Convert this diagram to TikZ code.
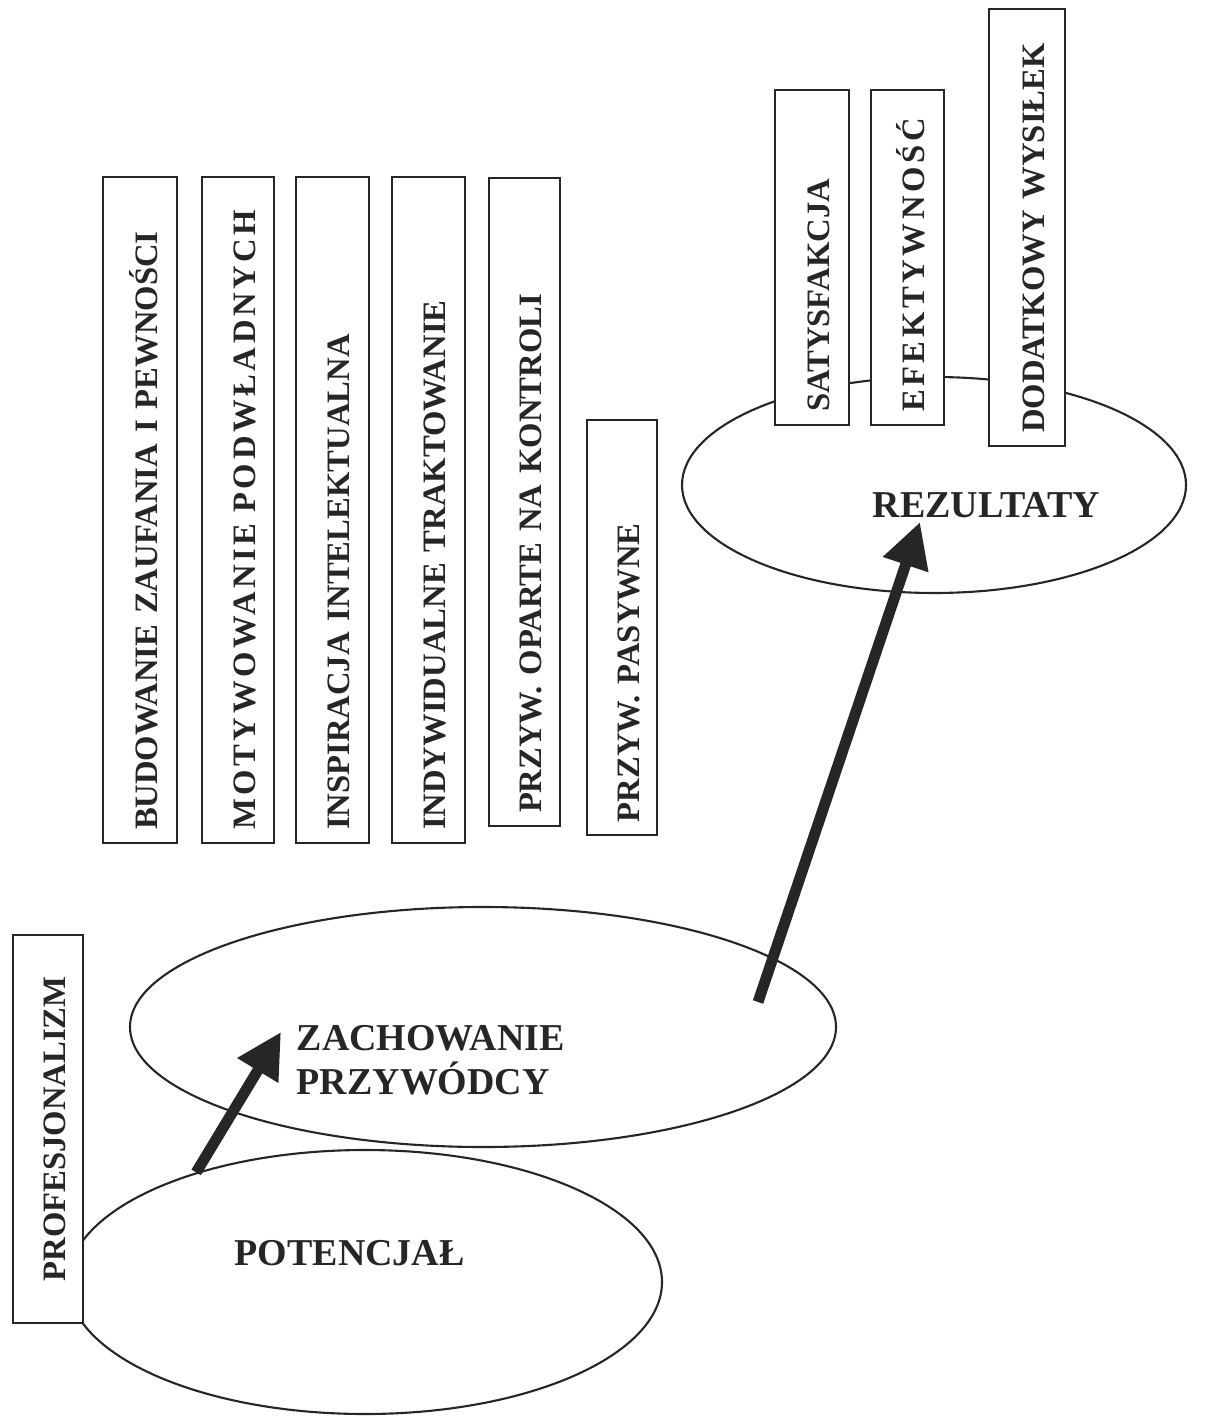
\documentclass[tikz,border=0pt]{standalone}
\usepackage{fontspec}
\setmainfont{Liberation Serif}
\usetikzlibrary{shapes.geometric,arrows.meta}
\definecolor{Tusz}{HTML}{262626}
\newcommand{\pionowy}{\fontsize{9.3}{11.2}\selectfont\bfseries}
\newcommand{\poziomy}{\fontsize{10.8}{12.5}\selectfont\bfseries}
\newcommand{\rozstrzel}{\addfontfeatures{LetterSpace=11}}

\begin{document}
\begin{tikzpicture}[x=0.1mm,y=-0.1mm,
    elipsa/.style={ellipse,draw=Tusz,line width=0.6pt,inner sep=0pt},
    ramka/.style={draw=Tusz,fill=white,line width=0.7pt,rotate=90,font=\pionowy,text=Tusz,
        inner xsep=1.3mm,inner ysep=0pt,text height=3.4mm,text depth=0pt},
    podpis/.style={font=\poziomy,text=Tusz,inner sep=0pt},
    strzalka/.style={draw=Tusz,line width=3.1pt,-{Triangle[length=4.5mm,width=4.5mm]}}]

    \useasboundingbox (0,0) rectangle (1213,1417);

    % elipsy
    \node[elipsa,minimum width=70.6mm,minimum height=24mm] (zachowanie) at (483,1027) {};
    \node[elipsa,minimum width=50.4mm,minimum height=21.6mm] (rezultaty) at (934,485) {};
    \node[elipsa,minimum width=59.4mm,minimum height=26.4mm] (potencjal) at (365,1282) {};

    \node[podpis,anchor=base west] (potencjalTxt) at (234,1265) {POTENCJAŁ};
    \node[podpis,anchor=west,align=left] (zachowanieTxt) at (296,1060) {ZACHOWANIE\\PRZYWÓDCY};
    \node[podpis,anchor=base west] (rezultatyTxt) at (872,518) {REZULTATY};

    % ramki
    \node[ramka,minimum width=66.6mm,minimum height=7.4mm,text width=64mm,align=left] (budowanie) at (140,510) {BUDOWANIE ZAUFANIA I PEWNOŚCI};
    \node[ramka,minimum width=66.6mm,minimum height=7.2mm,text width=64mm,align=left] (motywowanie) at (238,510) {\rozstrzel MOTYWOWANIE PODWŁADNYCH};
    \node[ramka,minimum width=66.6mm,minimum height=7.3mm,text width=64mm,align=left] (inspiracja) at (332.5,510) {INSPIRACJA INTELEKTUALNA};
    \node[ramka,minimum width=66.6mm,minimum height=7.3mm,text width=64mm,align=left] (indywidualne) at (428.5,510) {INDYWIDUALNE TRAKTOWANIE};
    \node[ramka,minimum width=64.8mm,minimum height=7.1mm,text width=62.2mm,align=left] (kontrola) at (524.5,502) {PRZYW. OPARTE NA KONTROLI};
    \node[ramka,minimum width=41.5mm,minimum height=7.0mm,text width=38.9mm,align=left] (pasywne) at (622,627.5) {PRZYW. PASYWNE};

    \node[ramka,minimum width=33.5mm,minimum height=7.4mm,text width=30.9mm,align=left] (satysfakcja) at (812,257.5) {SATYSFAKCJA};
    \node[ramka,minimum width=33.5mm,minimum height=7.3mm,text width=30.9mm,align=left] (efektywnosc) at (907.5,257.5) {\rozstrzel EFEKTYWNOŚĆ};
    \node[ramka,minimum width=43.7mm,minimum height=7.6mm,text width=41.1mm,align=left] (wysilek) at (1027,227.5) {DODATKOWY WYSIŁEK};

    \node[ramka,minimum width=38.8mm,minimum height=7.0mm] (profesjonalizm) at (48,1129) {PROFESJONALIZM};

    % strzalki
    \coordinate (grot1) at (281,1032);
    \coordinate (start2) at (758,1002);
    \coordinate (grot2) at (920,522);
    \draw[strzalka] (potencjal.147) -- (grot1);
    \draw[strzalka] (start2) -- (grot2);
\end{tikzpicture}
\end{document}
